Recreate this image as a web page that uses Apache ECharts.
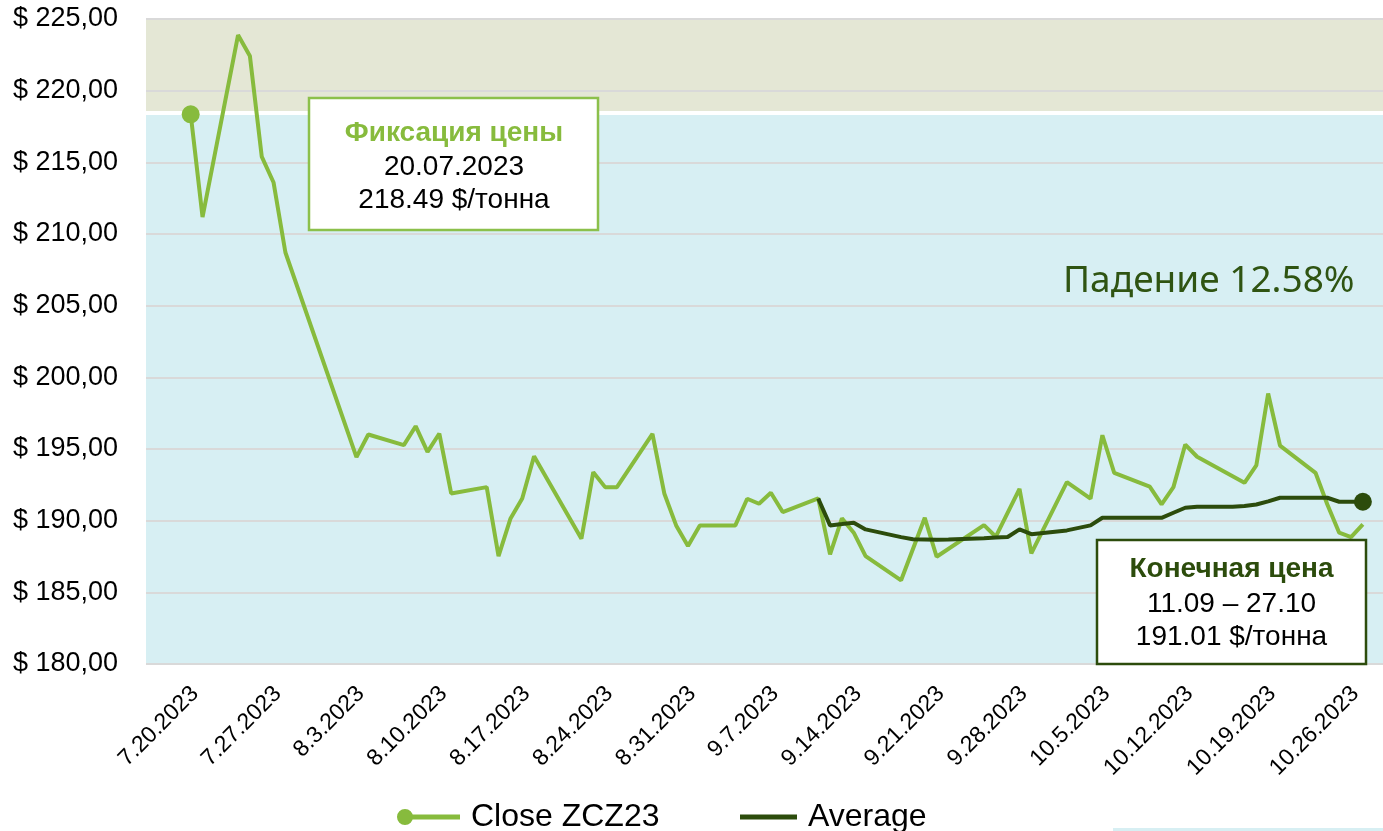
<!DOCTYPE html>
<html>
<head>
<meta charset="utf-8">
<script src="https://cdn.jsdelivr.net/npm/echarts@6/dist/echarts.min.js"></script>
<style>
html,body{margin:0;padding:0;background:#ffffff;}
#chart{width:1383px;height:831px;}
</style>
</head>
<body>
<div id="chart"></div>
<script>
// ---- data ----
const closeDates = [
  '2023-07-20','2023-07-21','2023-07-24','2023-07-25','2023-07-26','2023-07-27','2023-07-28',
  '2023-08-03','2023-08-04','2023-08-07','2023-08-08','2023-08-09','2023-08-10','2023-08-11',
  '2023-08-14','2023-08-15','2023-08-16','2023-08-17','2023-08-18','2023-08-22','2023-08-23',
  '2023-08-24','2023-08-25','2023-08-28','2023-08-29','2023-08-30','2023-08-31','2023-09-01',
  '2023-09-04','2023-09-05','2023-09-06','2023-09-07','2023-09-08','2023-09-11','2023-09-12',
  '2023-09-13','2023-09-14','2023-09-15','2023-09-18','2023-09-20','2023-09-21','2023-09-25',
  '2023-09-26','2023-09-28','2023-09-29','2023-10-02','2023-10-04','2023-10-05','2023-10-06',
  '2023-10-09','2023-10-10','2023-10-11','2023-10-12','2023-10-13','2023-10-17','2023-10-18',
  '2023-10-19','2023-10-20','2023-10-23','2023-10-24','2023-10-25','2023-10-26','2023-10-27'
];
const closeValues = [
  218.35, 211.18, 223.88, 222.42, 215.40, 213.59, 208.71,
  194.43, 196.01, 195.27, 196.59, 194.80, 196.08, 191.90,
  192.34, 187.53, 190.13, 191.55, 194.50, 188.74, 193.38,
  192.34, 192.34, 196.06, 191.90, 189.67, 188.23, 189.67,
  189.67, 191.53, 191.18, 191.95, 190.60, 191.55, 187.65,
  190.16, 189.16, 187.53, 185.84, 190.20, 187.48, 189.69,
  188.88, 192.22, 187.72, 192.69, 191.53, 195.96, 193.34,
  192.37, 191.13, 192.34, 195.31, 194.46, 192.64, 193.85,
  198.87, 195.24, 193.34, 191.13, 189.16, 188.86, 189.74
];
const avgDates = [
  '2023-09-11','2023-09-12','2023-09-13','2023-09-14','2023-09-15','2023-09-18','2023-09-19',
  '2023-09-20','2023-09-21','2023-09-22','2023-09-25','2023-09-26','2023-09-27','2023-09-28',
  '2023-09-29','2023-10-02','2023-10-04','2023-10-05','2023-10-06','2023-10-09','2023-10-10',
  '2023-10-11','2023-10-12','2023-10-13','2023-10-16','2023-10-17','2023-10-18','2023-10-19',
  '2023-10-20','2023-10-23','2023-10-24','2023-10-25','2023-10-26','2023-10-27'
];
const avgValues = [
  191.55, 189.67, 189.76, 189.86, 189.39, 188.85, 188.70,
  188.68, 188.66, 188.68, 188.78, 188.83, 188.86, 189.39,
  189.06, 189.32, 189.67, 190.20, 190.20, 190.20, 190.20,
  190.55, 190.90, 190.97, 190.97, 191.02, 191.13, 191.35,
  191.60, 191.60, 191.60, 191.32, 191.32, 191.32
];
const xTickLabels = [
  '7.20.2023','7.27.2023','8.3.2023','8.10.2023','8.17.2023','8.24.2023','8.31.2023',
  '9.7.2023','9.14.2023','9.21.2023','9.28.2023','10.5.2023','10.12.2023','10.19.2023','10.26.2023'
];
const seriesNames = ['Close ZCZ23', 'Average'];
const fixPrice = 218.49;
const yMin = 180, yMax = 225, yStep = 5;

// ---- helpers ----
const DAY = 86400000;
function isoToTs(s) { const p = s.split('-').map(Number); return Date.UTC(p[0], p[1] - 1, p[2]); }
function labelToTs(s) { const p = s.split('.').map(Number); return Date.UTC(p[2], p[0] - 1, p[1]); }
const tickValues = xTickLabels.map(labelToTs);
const t0 = tickValues[0];

const closeData = closeDates.map((d, i) => {
  const v = [isoToTs(d), closeValues[i]];
  return i === 0 ? { value: v, symbol: 'circle', symbolSize: 18 } : v;
});
const avgData = avgDates.map((d, i) => {
  const v = [isoToTs(d), avgValues[i]];
  return i === avgDates.length - 1 ? { value: v, symbol: 'circle', symbolSize: 18 } : v;
});

const GREEN = '#87bb3d';
const DARK = '#2c4c0c';
const FONT = "'Liberation Sans', Arial, sans-serif";

const chart = echarts.init(document.getElementById('chart'), null, { renderer: 'canvas' });
chart.setOption({
  animation: false,
  backgroundColor: '#ffffff',
  grid: { left: 146, right: 0, top: 19, bottom: 167, containLabel: false },
  xAxis: {
    type: 'value',
    min: t0 - 3.775 * DAY,
    max: t0 + 100.7 * DAY,
    axisLine: { show: false },
    axisTick: { show: false },
    splitLine: { show: false },
    axisLabel: {
      customValues: tickValues,
      rotate: 45,
      margin: 22,
      fontSize: 23,
      lineHeight: 12,
      fontFamily: FONT,
      color: '#000000',
      verticalAlign: 'top',
      formatter: function (v) {
        const d = new Date(v);
        return (d.getUTCMonth() + 1) + '.' + d.getUTCDate() + '.' + d.getUTCFullYear();
      }
    }
  },
  yAxis: {
    type: 'value',
    min: yMin, max: yMax, interval: yStep,
    z: 3,
    axisLine: { show: false },
    axisTick: { show: false },
    splitLine: { show: true, lineStyle: { color: '#d9d9d9', width: 2 } },
    axisLabel: {
      margin: 28,
      fontSize: 27,
      fontFamily: FONT,
      color: '#000000',
      formatter: function (v) { return '$ ' + v.toFixed(2).replace('.', ','); }
    }
  },
  legend: [
    {
      data: [{ name: seriesNames[0], icon: 'path://M0,8A8,8,0,1,1,16,8A8,8,0,1,1,0,8Z M8,5.5L63,5.5L63,10.5L8,10.5Z' }],
      left: 397, top: 801, padding: 0,
      itemWidth: 63, itemHeight: 16, itemGap: 10,
      textStyle: { fontSize: 32, fontFamily: FONT, color: '#000000', padding: [0, 0, 0, 6] }
    },
    {
      data: [{ name: seriesNames[1], icon: 'rect' }],
      left: 740, top: 801, padding: 0,
      itemWidth: 57, itemHeight: 5,
      textStyle: { fontSize: 32, fontFamily: FONT, color: '#000000', padding: [0, 0, 0, 6] }
    }
  ],
  series: [
    {
      name: seriesNames[0],
      type: 'line',
      z: 10,
      data: closeData,
      symbol: 'none',
      showSymbol: true,
      color: GREEN,
      lineStyle: { color: GREEN, width: 4 },
      itemStyle: { color: GREEN },
      emphasis: { disabled: true },
      markArea: {
        silent: true,
        data: [
          [{ yAxis: fixPrice, itemStyle: { color: '#e4e7d5' } }, { yAxis: yMax }],
          [{ yAxis: yMin, itemStyle: { color: '#d7eff3' } }, { yAxis: fixPrice }]
        ]
      },
      markLine: {
        silent: true,
        symbol: 'none',
        label: { show: false },
        lineStyle: { color: '#ffffff', width: 4, type: 'solid' },
        data: [{ yAxis: fixPrice }]
      }
    },
    {
      name: seriesNames[1],
      type: 'line',
      z: 11,
      data: avgData,
      symbol: 'none',
      showSymbol: true,
      color: DARK,
      lineStyle: { color: DARK, width: 4 },
      itemStyle: { color: DARK },
      emphasis: { disabled: true }
    }
  ],
  graphic: [
    { type: 'rect', z: 100, shape: { x: 309, y: 98, width: 289, height: 132 },
      style: { fill: '#ffffff', stroke: '#8cc04b', lineWidth: 2.5 } },
    { type: 'text', z: 101, x: 454, y: 133,
      style: { text: 'Фиксация цены', font: "bold 28px " + FONT, fill: GREEN, textAlign: 'center', textVerticalAlign: 'middle' } },
    { type: 'text', z: 101, x: 454, y: 167,
      style: { text: '20.07.2023', font: "28px " + FONT, fill: '#000000', textAlign: 'center', textVerticalAlign: 'middle' } },
    { type: 'text', z: 101, x: 454, y: 200,
      style: { text: '218.49 $/тонна', font: "28px " + FONT, fill: '#000000', textAlign: 'center', textVerticalAlign: 'middle' } },

    { type: 'rect', z: 100, shape: { x: 1097, y: 540, width: 269, height: 124 },
      style: { fill: '#ffffff', stroke: DARK, lineWidth: 2.5 } },
    { type: 'text', z: 101, x: 1231.5, y: 569,
      style: { text: 'Конечная цена', font: "bold 28px " + FONT, fill: DARK, textAlign: 'center', textVerticalAlign: 'middle' } },
    { type: 'text', z: 101, x: 1231.5, y: 604,
      style: { text: '11.09 – 27.10', font: "28px " + FONT, fill: '#000000', textAlign: 'center', textVerticalAlign: 'middle' } },
    { type: 'text', z: 101, x: 1231.5, y: 637,
      style: { text: '191.01 $/тонна', font: "28px " + FONT, fill: '#000000', textAlign: 'center', textVerticalAlign: 'middle' } },

    { type: 'text', z: 100, x: 1063, y: 281,
      style: { text: 'Падение 12.58%', font: "37px 'Noto Sans', 'Open Sans', sans-serif", fill: '#2f5412', textAlign: 'left', textVerticalAlign: 'middle' } },
    { type: 'rect', z: 100, shape: { x: 1113, y: 828, width: 270, height: 3 },
      style: { fill: '#d7eff3' } }
  ]
});
</script>
</body>
</html>
